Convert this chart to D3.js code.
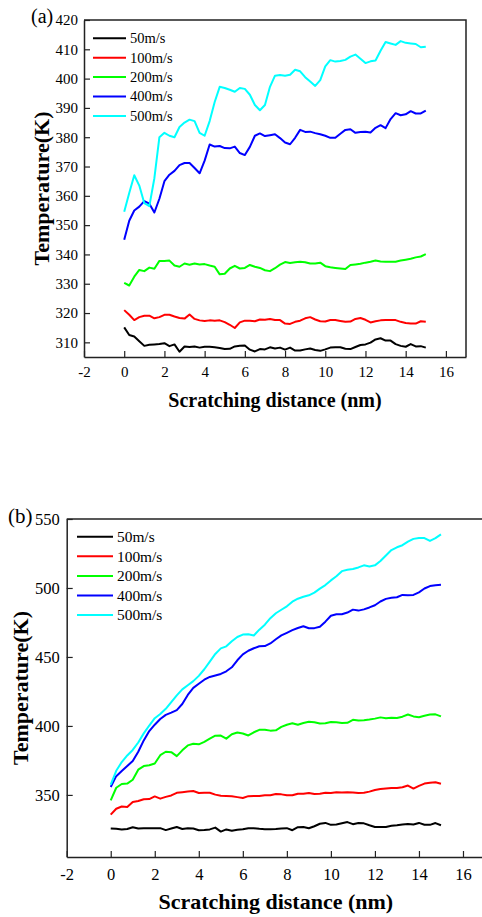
<!DOCTYPE html>
<html>
<head>
<meta charset="utf-8">
<script src="https://cdn.jsdelivr.net/npm/d3@7"></script>
<style>
  html, body { margin: 0; padding: 0; background: #fff; }
  svg { display: block; }
  text { font-family: "Times New Roman", "Liberation Serif", serif; fill: #000; }
</style>
</head>
<body>
<div id="chart"></div>
<script>
// sampling of scratching distance (nm), one reading every 0.25 nm
const distance = d3.range(0, 15.001, 0.25);

const speeds = ['50m/s', '100m/s', '200m/s', '400m/s', '500m/s'];
const speedColors = ['#000000', '#ff0000', '#00ff00', '#0000ff', '#00ffff'];

const xTicks = [-2, 0, 2, 4, 6, 8, 10, 12, 14, 16];
const yTicksA = [310, 320, 330, 340, 350, 360, 370, 380, 390, 400, 410, 420];
const yTicksB = [350, 400, 450, 500, 550];

// panel (a) temperatures (K)
const a50 = [315.1, 312.5, 312, 310.4, 308.8, 309.2, 309.3, 309.4, 309.7, 308.7,
  309.3, 306.8, 308.6, 308.4, 308.6, 308.2, 308.5, 308.5, 308.3, 308.1,
  307.7, 307.8, 308.6, 308.8, 308.9, 307.5, 306.9, 307.7, 307.6, 308.3,
  307.9, 308.2, 307.5, 308.2, 307.2, 307.2, 307.6, 307.9, 307.4, 307.1,
  307.6, 308.2, 308.3, 308.3, 307.8, 307.7, 308.4, 309.1, 309.3, 309.9,
  311, 311.4, 310.6, 310.6, 309.4, 308.8, 308.5, 309.4, 308.6, 308.7, 308.2];
const a100 = [321, 319.4, 317.6, 318.6, 319.1, 319.1, 318.2, 318.6, 319.4, 319.4,
  318.8, 318.3, 318.1, 319.5, 318, 317.5, 317.3, 317.5, 317.4, 317.5,
  316.9, 316, 314.9, 316.8, 317.4, 317.4, 317.2, 317.8, 317.7, 318,
  317.6, 317.6, 316.4, 316.3, 317, 317.4, 318.2, 318.6, 317.8, 317.2,
  317.1, 317.6, 317.6, 317.3, 317, 317.1, 318, 318.3, 317.7, 316.8,
  317.2, 317.5, 317.6, 317.6, 317.6, 317, 316.6, 316.4, 316.4, 317.2, 317];
const a200 = [330.3, 329.4, 332.4, 334.7, 334.3, 335.5, 335.1, 337.8, 337.8, 337.9,
  336.2, 335.8, 336.9, 336.5, 336.9, 336.6, 336.7, 336.2, 335.8, 333.2,
  333.4, 335.2, 336.1, 335.2, 335.4, 336.4, 335.8, 335.4, 334.6, 334.3,
  335.3, 336.5, 337.4, 337.1, 337.3, 337.5, 337.3, 336.9, 336.9, 337.2,
  336, 335.6, 335.4, 335.2, 335, 336.4, 336.6, 336.8, 337.2, 337.5,
  337.9, 337.6, 337.5, 337.5, 337.5, 337.9, 338.2, 338.5, 339, 339.3, 340.1];
const a400 = [345, 351.5, 355, 356.3, 358.2, 357.3, 354.3, 359, 365, 367.2,
  368.5, 370.5, 371.2, 371.2, 369.5, 367.7, 372, 377.5, 376.8, 377,
  376.3, 376.2, 376.8, 374.6, 373.9, 376.7, 380.5, 381.3, 380.4, 380.7,
  381, 379.7, 378.2, 377.6, 379.8, 382.5, 381.8, 381.9, 381.4, 381,
  380.5, 379.8, 379.8, 381.2, 382.5, 382.7, 381.5, 381.8, 381.9, 381.6,
  383.2, 384.1, 383.1, 386.2, 388.2, 387.5, 387.8, 388.9, 388.1, 388.1, 389.1];
const a500 = [354.6, 361, 367, 363.5, 357.5, 356.5, 366, 380, 381.5, 380.5,
  380, 383.5, 385, 386, 385.5, 381.5, 380.5, 385.5, 392, 397.2,
  396.8, 396.2, 395.5, 396.8, 396.5, 394.5, 391, 389.2, 391, 397.2,
  401, 401.2, 401, 401.3, 403, 402.5, 400.5, 399, 397.5, 399.5,
  404.2, 406.3, 405.8, 406, 406.4, 407.5, 408.2, 406.8, 405.3, 405.9,
  406.2, 409.5, 412.5, 412, 411.5, 412.8, 412.2, 412, 411.8, 410.7, 410.9];

// panel (b) temperatures (K)
const b50 = [325.6, 325.4, 324.9, 325.3, 326.6, 325.7, 325.9, 325.8, 325.8, 325.9,
  324.5, 325.6, 326.7, 325.3, 325.8, 325.6, 324.4, 324.5, 325, 326.3,
  323.4, 325, 324, 324.8, 325.1, 325.9, 325.8, 325.4, 325.2, 325.1,
  325.3, 325.7, 325.9, 324.4, 326.6, 326.8, 325.8, 327.3, 329.1, 329.7,
  328.3, 328.6, 329.5, 330.3, 328.8, 329.6, 329.4, 328, 326.8, 326.8,
  326.8, 327.6, 328, 328.5, 329, 328.6, 329.7, 328.4, 328.3, 329.6, 328];
const b100 = [335.7, 340, 341.6, 341.3, 344.9, 345.6, 346.9, 347, 348.9, 347.3,
  348.6, 349.6, 351.5, 352, 352.4, 352.8, 351.4, 351.6, 351.6, 350.2,
  349.4, 349.2, 349, 348.4, 347.8, 349.1, 349.3, 349.2, 349.7, 349.7,
  350.7, 350.4, 349.7, 349.7, 350.9, 350.9, 351.4, 350.7, 350.9, 351.5,
  351.4, 352, 351.7, 351.9, 351.8, 351.4, 351.6, 352.4, 353.6, 354.3,
  354.7, 355, 355, 355.6, 356.8, 354.6, 356.6, 358.2, 358.8, 359.2, 358.1];
const b200 = [346, 355.2, 357.9, 358.2, 361, 368.3, 370.9, 371.5, 372.8, 378.8,
  381.3, 381, 378.1, 382.3, 385.9, 387.1, 386.7, 388.5, 390.8, 392.9,
  393, 390.8, 394, 395.2, 394.5, 393.1, 395.4, 397.2, 397.3, 396.6,
  396.8, 399.3, 400.9, 402, 400.9, 402.1, 403, 402.7, 401.8, 402,
  402.8, 402.6, 402.1, 402.3, 404.4, 404, 404.2, 404.7, 405.3, 406.2,
  405.6, 406, 405.8, 406.7, 408.3, 406.9, 406.3, 407.4, 408.3, 408.4, 406.9];
const b400 = [355.7, 363.6, 367.3, 371, 374.6, 381.3, 389.5, 396.3, 400.9, 405,
  408, 409.6, 411.5, 415.9, 422.5, 427.6, 430.6, 433.5, 435.5, 436.6,
  437.7, 439.6, 442.5, 447.6, 451.9, 454.5, 456.3, 457.8, 457.9, 459.8,
  462.8, 465.6, 467.5, 469.4, 471, 472.3, 470.8, 470.9, 471.9, 475.6,
  479.9, 481, 481, 482.2, 484.3, 483.6, 484.5, 485.9, 487.5, 490.2,
  492.1, 492.9, 493.3, 495, 494.8, 495, 496.8, 499.6, 501.4, 502, 502.4];
const b500 = [357.4, 367.5, 373.8, 378.6, 382.6, 388, 394.6, 400.3, 405.6, 408.6,
  412.4, 417.2, 422.2, 426.5, 429.5, 432.5, 436.3, 441.1, 446.6, 452.2,
  456.2, 457.7, 461.4, 464.5, 466.2, 466.5, 465.6, 469.8, 473.4, 478.1,
  481.7, 484.2, 486.7, 490.1, 492.2, 493.6, 494.7, 496.6, 499.5, 502.1,
  505.5, 508.5, 512.2, 513.2, 513.7, 514.9, 516.4, 515.6, 516.4, 519.6,
  523.6, 527.5, 529.5, 531, 533.6, 535.6, 536.2, 536.2, 534.1, 536.1, 538.8];

const W = 482, H = 917;
const serif = '"Times New Roman", "Liberation Serif", serif';

const svg = d3.select('#chart').append('svg')
  .attr('width', W)
  .attr('height', H);

svg.append('rect').attr('width', W).attr('height', H).attr('fill', '#fff');

function drawPanel(p) {
  const g = svg.append('g');

  const x = d3.scaleLinear().domain([-2, 17]).range([p.left, p.right]);
  const y = d3.scaleLinear().domain(p.yDomain).range([p.bottom, p.top]);

  // frame (top + right edges)
  g.append('path')
    .attr('d', `M${p.left},${p.top}H${p.right}V${p.bottom}`)
    .attr('fill', 'none')
    .attr('stroke', '#222')
    .attr('stroke-width', 1.5);

  const xAxis = g.append('g')
    .attr('transform', `translate(0,${p.bottom})`)
    .call(d3.axisBottom(x)
      .tickValues(xTicks)
      .tickFormat(d => String(d))
      .tickSizeInner(-6)
      .tickSizeOuter(0)
      .tickPadding(p.xPad));

  const yAxis = g.append('g')
    .attr('transform', `translate(${p.left},0)`)
    .call(d3.axisLeft(y)
      .tickValues(p.yTicks)
      .tickFormat(d => String(d))
      .tickSizeInner(-6)
      .tickSizeOuter(0)
      .tickPadding(p.yPad));

  for (const ax of [xAxis, yAxis]) {
    ax.attr('font-family', serif);
    ax.select('.domain').attr('stroke', '#222').attr('stroke-width', 1.5);
    ax.selectAll('.tick line').attr('stroke', '#222').attr('stroke-width', 1.2);
    ax.selectAll('.tick text')
      .attr('font-size', p.tickSize)
      .attr('fill', '#000');
  }

  // series
  const line = d3.line()
    .x((d, i) => x(distance[i]))
    .y(d => y(d));

  p.series.forEach((vals, i) => {
    g.append('path')
      .datum(vals)
      .attr('d', line)
      .attr('fill', 'none')
      .attr('stroke', speedColors[i])
      .attr('stroke-width', 2)
      .attr('stroke-linejoin', 'round');
  });

  // legend
  const lg = g.append('g');
  speeds.forEach((s, i) => {
    const yy = p.legend.y0 + i * p.legend.dy;
    lg.append('line')
      .attr('x1', p.legend.x1).attr('x2', p.legend.x2)
      .attr('y1', yy).attr('y2', yy)
      .attr('stroke', speedColors[i])
      .attr('stroke-width', 2);
    lg.append('text')
      .attr('x', p.legend.tx)
      .attr('y', yy)
      .attr('dy', '0.34em')
      .attr('font-size', p.legend.size)
      .text(s);
  });

  // axis titles
  g.append('text')
    .attr('x', (p.left + p.right) / 2)
    .attr('y', p.xTitleY)
    .attr('text-anchor', 'middle')
    .attr('font-size', p.xTitleSize)
    .attr('font-weight', 'bold')
    .text('Scratching distance (nm)');

  g.append('text')
    .attr('transform', `translate(${p.yTitleX},${(p.top + p.bottom) / 2}) rotate(-90)`)
    .attr('text-anchor', 'middle')
    .attr('font-size', p.yTitleSize)
    .attr('font-weight', 'bold')
    .text('Temperature(K)');

  // panel letter
  g.append('text')
    .attr('x', p.tagX)
    .attr('y', p.tagY)
    .attr('font-size', p.tagSize)
    .text(p.tag);
}

drawPanel({
  left: 84, top: 20, right: 466, bottom: 357,
  yDomain: [305, 420], yTicks: yTicksA,
  series: [a50, a100, a200, a400, a500],
  tickSize: 15, xPad: 9, yPad: 6,
  legend: { x1: 93, x2: 126, tx: 130, y0: 38.3, dy: 19.4, size: 14.5 },
  xTitleY: 407, xTitleSize: 20,
  yTitleX: 49, yTitleSize: 22,
  tag: '(a)', tagX: 31, tagY: 23, tagSize: 20
});

drawPanel({
  left: 66.7, top: 519, right: 485, bottom: 857,
  yDomain: [305, 550], yTicks: yTicksB,
  series: [b50, b100, b200, b400, b500],
  tickSize: 16.5, xPad: 11, yPad: 7,
  legend: { x1: 77, x2: 113, tx: 117, y0: 536.7, dy: 19.6, size: 15.4 },
  xTitleY: 909, xTitleSize: 22,
  yTitleX: 28, yTitleSize: 22,
  tag: '(b)', tagX: 8, tagY: 523, tagSize: 21
});
</script>
</body>
</html>
